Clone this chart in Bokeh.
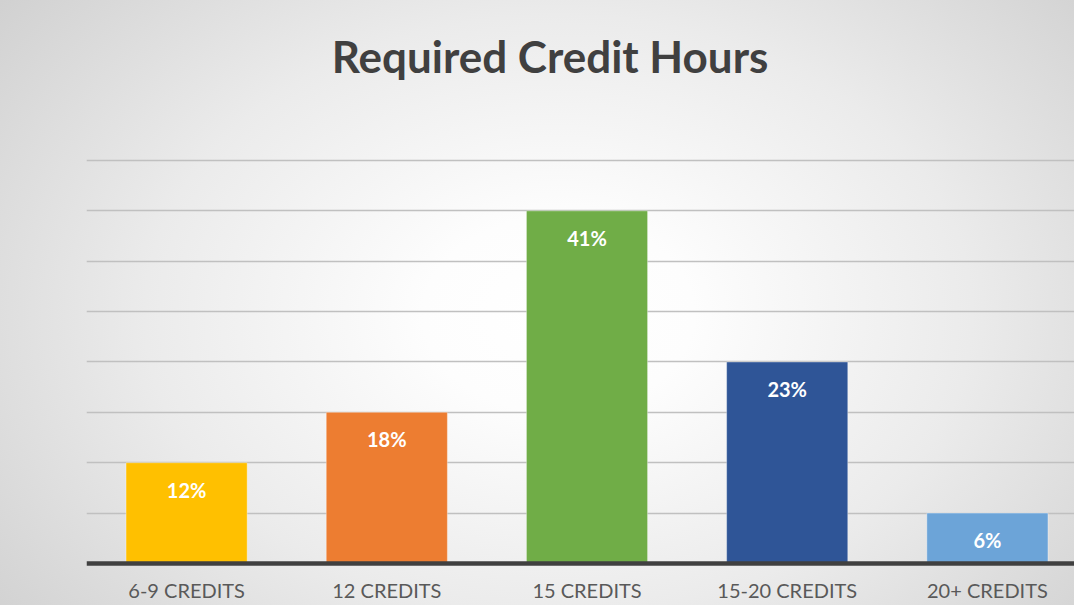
from bokeh.plotting import figure
from bokeh.models import Range1d, FixedTicker, ColumnDataSource, LabelSet, Label
from bokeh.core.properties import value
from bokeh.embed import file_html
from bokeh.resources import INLINE

# ---- data ----
categories = ["6-9 CREDITS", "12 CREDITS", "15 CREDITS", "15-20 CREDITS", "20+ CREDITS"]
counts = [2, 3, 7, 4, 1]
pct_labels = ["12%", "18%", "41%", "23%", "6%"]
colors = ["#FFC000", "#ED7D31", "#70AD47", "#2F5597", "#6CA4D8"]
grid_ticks = [1, 2, 3, 4, 5, 6, 7, 8]

xpos = [i + 0.5 for i in range(len(categories))]
src = ColumnDataSource(dict(x=xpos, counts=counts, pct=pct_labels, color=colors, cat=categories))

p = figure(width=1074, height=605, output_backend="svg", toolbar_location=None,
           x_range=Range1d(0, 4.935), y_range=Range1d(-0.834, 11.176),
           min_border_left=86, min_border_right=0, min_border_top=0, min_border_bottom=0,
           styles={"background": "radial-gradient(ellipse 70% 90% at 52% 52%, #ffffff 0%, #fdfdfd 18%, #ebebeb 55%, #cdcdcd 100%)"})
p.background_fill_alpha = 0
p.border_fill_alpha = 0
p.outline_line_color = None

p.xgrid.visible = False
p.yaxis.visible = False
p.ygrid.ticker = FixedTicker(ticks=grid_ticks)
p.ygrid.grid_line_color = "#c0c0c0"
p.ygrid.grid_line_width = 1.5

p.vbar(x="x", top="counts", bottom=0, width=0.605, fill_color="color",
       line_color="white", line_alpha=0.35, line_width=1, source=src)

p.xaxis.fixed_location = 0
p.xaxis.ticker = FixedTicker(ticks=xpos)
p.xaxis.major_label_overrides = {x: c for x, c in zip(xpos, categories)}
p.xaxis.axis_line_color = "#404040"
p.xaxis.axis_line_width = 4.5
p.xaxis.major_tick_line_color = None
p.xaxis.minor_tick_line_color = None
p.xaxis.major_label_standoff = 9
p.xaxis.major_label_text_font = "Lato"
p.xaxis.major_label_text_font_size = "20px"
p.xaxis.major_label_text_color = "#595959"

labels = LabelSet(x="x", y="counts", text="pct", y_offset=-27, source=src,
                  text_align="center", text_baseline="middle", text_color="white",
                  text_font=value("Lato"), text_font_size="20px", text_font_style="bold")
p.add_layout(labels)

title = Label(x=463.5, y=550, x_units="screen", y_units="screen", text="Required Credit Hours",
              text_align="center", text_baseline="alphabetic", text_color="#404040",
              text_font="Lato", text_font_size="44px", text_font_style="bold")
p.add_layout(title)

open("out.html", "w").write(file_html(p, INLINE))
